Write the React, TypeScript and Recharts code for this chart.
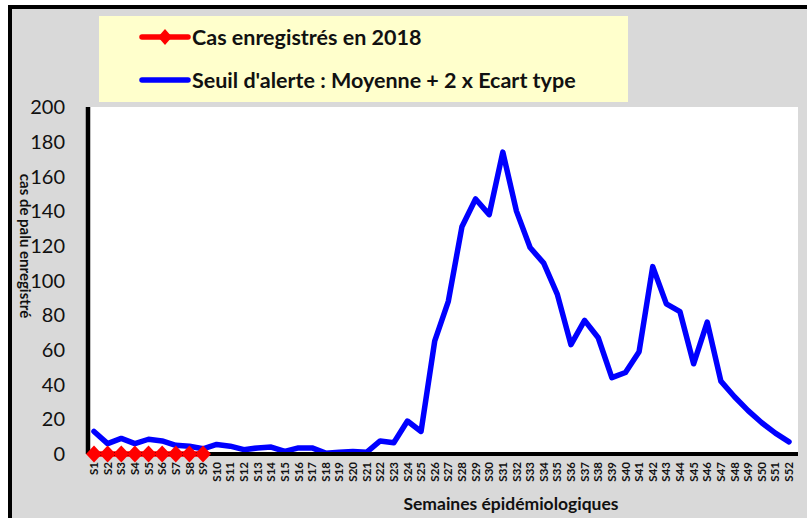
import { LineChart, Line, XAxis, YAxis, CartesianGrid } from "recharts";

const weeks = [
  "S1", "S2", "S3", "S4", "S5", "S6", "S7", "S8", "S9", "S10",
  "S11", "S12", "S13", "S14", "S15", "S16", "S17", "S18", "S19", "S20",
  "S21", "S22", "S23", "S24", "S25", "S26", "S27", "S28", "S29", "S30",
  "S31", "S32", "S33", "S34", "S35", "S36", "S37", "S38", "S39", "S40",
  "S41", "S42", "S43", "S44", "S45", "S46", "S47", "S48", "S49", "S50",
  "S51", "S52",
];

// Cas enregistrés en 2018 (S1 à S9)
const cases2018 = [0, 0, 0, 0, 0, 0, 0, 0, 0];

// Seuil d'alerte : Moyenne + 2 x Ecart type
const alertThreshold = [
  13, 6, 9, 6, 8.5, 7.5, 5, 4.5, 3, 5.5,
  4.5, 2.5, 3.5, 4, 1.5, 3.5, 3.5, 0.5, 1, 1.5,
  1, 7.5, 6.5, 19, 13, 65, 88, 131, 147, 138,
  174, 140, 119, 110, 92, 63, 77, 67, 44, 47,
  59, 108, 86.5, 82, 52, 76, 42, 33, 25, 18,
  12, 7,
];

const yTicks = [0, 20, 40, 60, 80, 100, 120, 140, 160, 180, 200];

const data = weeks.map((week, i) => ({
  week,
  seuil: alertThreshold[i],
  cas: i < cases2018.length ? cases2018[i] : null,
}));

const FONT = "Lato, 'Open Sans', sans-serif";

const WeekTick = ({ x, y, payload }: any) => (
  <text
    x={x}
    y={y}
    transform={`rotate(-90 ${x} ${y})`}
    textAnchor="end"
    dy="0.36em"
    fontSize={11.5}
    fontWeight="bold"
    fontFamily={FONT}
    fill="#111"
  >
    {payload.value}
  </text>
);

const Diamond = (props: any) => {
  const { cx, cy, index } = props;
  if (cx == null || cy == null) return <g key={`d-${index}`} />;
  return (
    <polygon
      key={`d-${index}`}
      points={`${cx},${cy - 8.5} ${cx + 8},${cy} ${cx},${cy + 8.5} ${cx - 8},${cy}`}
      fill="#ff0000"
    />
  );
};

const LegendMark = ({ color, diamond }: { color: string; diamond?: boolean }) => (
  <svg width={52} height={20} style={{ display: "block" }}>
    <line x1={3} y1={10} x2={49} y2={10} stroke={color} strokeWidth={5.5} strokeLinecap="round" />
    {diamond && <polygon points="26,2 33,10 26,18 19,10" fill={color} />}
  </svg>
);

export default function App() {
  return (
    <div
      style={{
        position: "absolute",
        left: 0,
        top: 0,
        width: 807,
        height: 518,
        overflow: "hidden",
        background: "#fff",
        fontFamily: FONT,
      }}
    >
      <div
        style={{
          position: "absolute",
          left: 8,
          top: 5,
          width: 830,
          height: 509,
          background: "#d9d9d9",
          borderTop: "4px solid #000",
          borderLeft: "4px solid #000",
          borderBottom: "2px solid #000",
        }}
      />
      <div
        style={{
          position: "absolute",
          left: 99,
          top: 16,
          width: 529,
          height: 86,
          background: "#ffffcc",
        }}
      >
        <div style={{ position: "absolute", left: 40, top: 8, display: "flex", alignItems: "center" }}>
          <LegendMark color="#ff0000" diamond />
          <span style={{ fontWeight: "bold", fontSize: 21.5, color: "#111", marginLeft: 1 }}>
            Cas enregistrés en 2018
          </span>
        </div>
        <div style={{ position: "absolute", left: 40, top: 51, display: "flex", alignItems: "center" }}>
          <LegendMark color="#0000ff" />
          <span style={{ fontWeight: "bold", fontSize: 21.5, color: "#111", marginLeft: 1 }}>
            Seuil d'alerte : Moyenne + 2 x Ecart type
          </span>
        </div>
      </div>
      <div style={{ position: "absolute", left: 0, top: 0 }}>
        <LineChart
          width={807}
          height={518}
          data={data}
          margin={{ top: 107, right: 9, bottom: 4, left: 28 }}
        >
          <CartesianGrid fill="#ffffff" horizontal={false} vertical={false} />
          <XAxis
            dataKey="week"
            interval={0}
            height={60}
            padding={{ left: 6, right: 9 }}
            tickLine={false}
            axisLine={{ stroke: "#000", strokeWidth: 4 }}
            tick={<WeekTick />}
          />
          <YAxis
            width={60}
            domain={[0, 200]}
            ticks={yTicks}
            interval={0}
            tickLine={false}
            tickMargin={17}
            axisLine={{ stroke: "#000", strokeWidth: 4.5 }}
            tick={{ fontSize: 20, fill: "#111", fontFamily: FONT }}
          />
          <Line
            type="linear"
            dataKey="seuil"
            stroke="#0000ff"
            strokeWidth={5.5}
            strokeLinejoin="round"
            strokeLinecap="round"
            dot={false}
            activeDot={false}
            isAnimationActive={false}
          />
          <Line
            type="linear"
            dataKey="cas"
            stroke="#ff0000"
            strokeWidth={5.5}
            dot={Diamond}
            activeDot={false}
            isAnimationActive={false}
          />
          <text
            x={511}
            y={510}
            textAnchor="middle"
            fontSize={17.5}
            fontWeight="bold"
            fontFamily={FONT}
            fill="#111"
          >
            Semaines épidémiologiques
          </text>
          <text
            x={26}
            y={246}
            transform="rotate(90 26 246)"
            textAnchor="middle"
            dominantBaseline="central"
            fontSize={15}
            fontWeight="bold"
            fontFamily={FONT}
            fill="#111"
          >
            cas de palu enregistré
          </text>
        </LineChart>
      </div>
    </div>
  );
}
